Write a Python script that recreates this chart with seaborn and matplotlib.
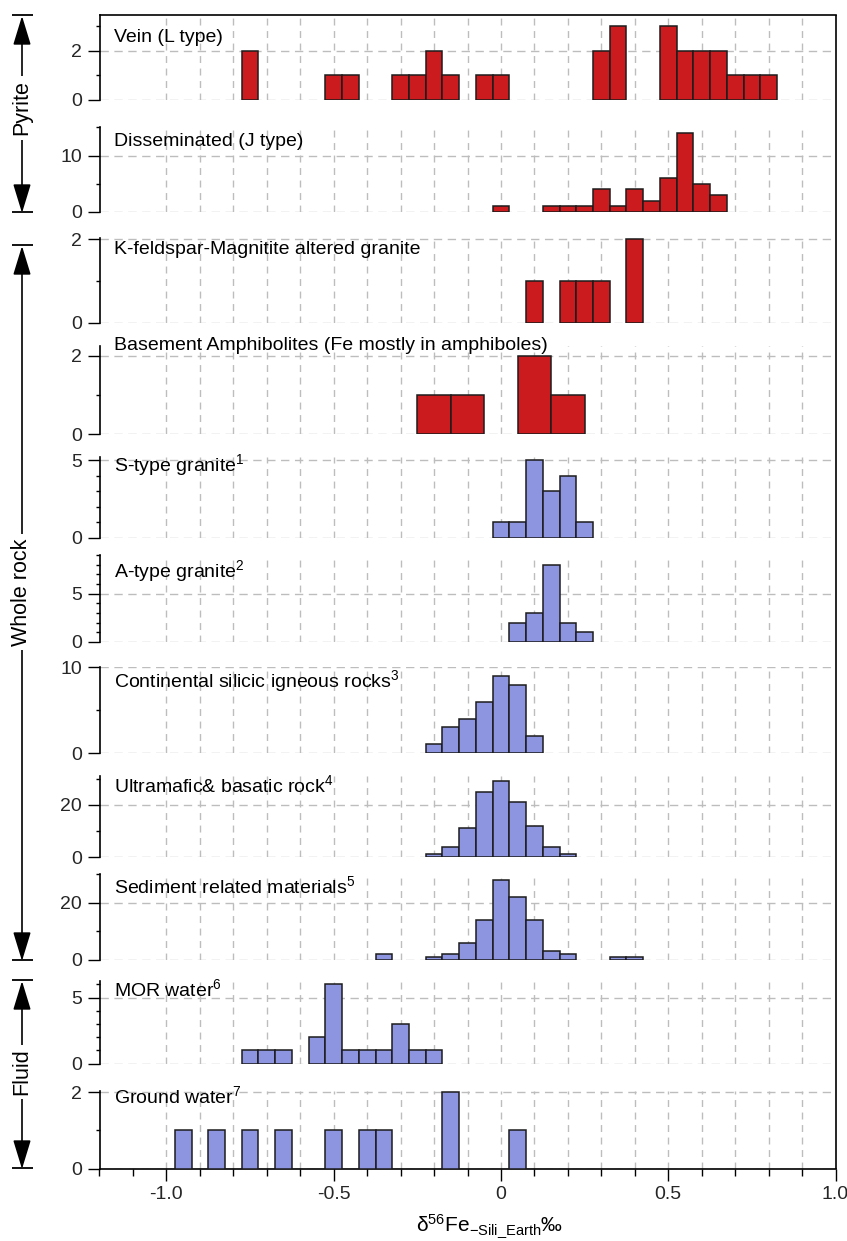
import numpy as np
import pandas as pd
import matplotlib
matplotlib.use("Agg")
import matplotlib.pyplot as plt
from matplotlib.ticker import MultipleLocator, FuncFormatter
import seaborn as sns

sns.set_theme(style="white")
plt.rcParams['font.family'] = ['Liberation Sans', 'DejaVu Sans']
plt.rcParams['mathtext.fontset'] = 'custom'
plt.rcParams['mathtext.rm'] = 'Liberation Sans'
plt.rcParams['mathtext.it'] = 'Liberation Sans:italic'
plt.rcParams['mathtext.bf'] = 'Liberation Sans:bold'
plt.rcParams['axes.unicode_minus'] = False

# ---------------- data (bin centres, counts) ----------------
titles = [
    "Vein (L type)",
    "Disseminated (J type)",
    "K-feldspar-Magnitite altered granite",
    "Basement Amphibolites (Fe mostly in amphiboles)",
    "S-type granite$^{1}$",
    "A-type granite$^{2}$",
    "Continental silicic igneous rocks$^{3}$",
    "Ultramafic& basatic rock$^{4}$",
    "Sediment related materials$^{5}$",
    "MOR water$^{6}$",
    "Ground water$^{7}$",
]

vein_x = [-0.75, -0.5, -0.45, -0.3, -0.25, -0.2, -0.15, -0.05, 0.0,
          0.3, 0.35, 0.5, 0.55, 0.6, 0.65, 0.7, 0.75, 0.8]
vein_n = [2, 1, 1, 1, 1, 2, 1, 1, 1, 2, 3, 3, 2, 2, 2, 1, 1, 1]

diss_x = [0.0, 0.15, 0.2, 0.25, 0.3, 0.35, 0.4, 0.45, 0.5, 0.55, 0.6, 0.65]
diss_n = [1, 1, 1, 1, 4, 1, 4, 2, 6, 14, 5, 3]

kfel_x = [0.1, 0.2, 0.25, 0.3, 0.4]
kfel_n = [1, 1, 1, 1, 2]

# amphibolites are binned at 0.1 width
amph_x = [-0.2, -0.1, 0.1, 0.2]
amph_n = [1, 1, 2, 1]

stype_x = [0.0, 0.05, 0.1, 0.15, 0.2, 0.25]
stype_n = [1, 1, 5, 3, 4, 1]

atype_x = [0.05, 0.1, 0.15, 0.2, 0.25]
atype_n = [2, 3, 8, 2, 1]

cont_x = [-0.2, -0.15, -0.1, -0.05, 0.0, 0.05, 0.1]
cont_n = [1, 3, 4, 6, 9, 8, 2]

ultra_x = [-0.2, -0.15, -0.1, -0.05, 0.0, 0.05, 0.1, 0.15, 0.2]
ultra_n = [1, 4, 11, 25, 29, 21, 12, 4, 1]

sedi_x = [-0.35, -0.2, -0.15, -0.1, -0.05, 0.0, 0.05, 0.1, 0.15, 0.2, 0.35, 0.4]
sedi_n = [2, 1, 2, 6, 14, 28, 22, 14, 3, 2, 1, 1]

mor_x = [-0.75, -0.7, -0.65, -0.55, -0.5, -0.45, -0.4, -0.35, -0.3, -0.25, -0.2]
mor_n = [1, 1, 1, 2, 6, 1, 1, 1, 3, 1, 1]

ground_x = [-0.95, -0.85, -0.75, -0.65, -0.5, -0.4, -0.35, -0.15, 0.05]
ground_n = [1, 1, 1, 1, 1, 1, 1, 2, 1]

panel_x = [vein_x, diss_x, kfel_x, amph_x, stype_x, atype_x, cont_x,
           ultra_x, sedi_x, mor_x, ground_x]
panel_n = [vein_n, diss_n, kfel_n, amph_n, stype_n, atype_n, cont_n,
           ultra_n, sedi_n, mor_n, ground_n]
bin_widths = [0.05, 0.05, 0.05, 0.1, 0.05, 0.05, 0.05, 0.05, 0.05, 0.05, 0.05]

x_ticks = [-1.0, -0.5, 0.0, 0.5, 1.0]
group_labels = ["Pyrite", "Whole rock", "Fluid"]

# ---------------- layout / style ----------------
W, H = 847, 1241
RED = "#CC1B1F"
BLUE = "#8D95E0"
EDGE = "#1c1c1c"
GRID = "#BDBDBD"
FS = 14

colors = [RED] * 4 + [BLUE] * 7
# (top_px, bottom_px)
pix = [(15, 99.5), (127, 212), (238, 323), (346, 434), (457, 537.5),
       (555, 642), (667, 753), (776, 857), (874, 960), (981, 1063.5),
       (1091, 1168.5)]
ytops = [3.47, 15.05, 2.03, 2.25, 5.2, 9.0, 10.05, 31, 30.05, 6.25, 2.03]
majors = [2, 10, 2, 2, 5, 5, 10, 20, 20, 5, 2]
minors = [1, 5, 1, 1, 1, 1, 5, 10, 10, 1, 1]
title_y = [37, 141, 249, 345, 465, 571, 681, 785, 886, 989, 1096]

LEFT, RIGHT = 99.5, 835.5

fig = plt.figure(figsize=(W / 100, H / 100), dpi=100)
fig.patch.set_facecolor("white")

axes = []
for i in range(11):
    top, bot = pix[i]
    ax = fig.add_axes([LEFT / W, 1 - bot / H, (RIGHT - LEFT) / W, (bot - top) / H])
    df = pd.DataFrame({"x": panel_x[i], "n": panel_n[i]})
    bw = bin_widths[i]
    sns.histplot(data=df, x="x", weights="n", binwidth=bw,
                 binrange=(-1.2 - bw / 2, 1.0 + bw / 2), ax=ax,
                 color=colors[i], edgecolor=EDGE, linewidth=1.1, alpha=1.0,
                 zorder=3)
    # drop empty bins so they do not draw an outline along the baseline
    for p in list(ax.patches):
        if p.get_height() <= 0:
            p.remove()
    ax.set_xlim(-1.2, 1.0)
    ax.set_ylim(0, ytops[i])
    ax.set_ylabel("")
    ax.set_xlabel("")
    ax.set_facecolor("none")
    ax.set_axisbelow(True)
    ax.yaxis.set_major_locator(MultipleLocator(majors[i]))
    ax.yaxis.set_minor_locator(MultipleLocator(minors[i]))
    ax.yaxis.set_major_formatter(FuncFormatter(lambda v, p: f"{int(round(v))}"))
    ax.grid(True, which="major", axis="y", color=GRID, lw=1.0,
            linestyle=(0, (6, 4)), zorder=0)
    for xv in np.arange(-1.0, 0.95, 0.1):
        ax.axvline(xv, color=GRID, lw=1.0, linestyle=(0, (5, 4)), zorder=0)
    for s in ["top", "right", "bottom"]:
        ax.spines[s].set_visible(False)
    ax.spines["left"].set_color("black")
    ax.spines["left"].set_linewidth(1.2)
    ax.tick_params(axis="y", which="major", direction="out", length=8.6,
                   width=1.0, color="black", labelsize=FS, pad=4, left=True)
    ax.tick_params(axis="y", which="minor", direction="out", length=3.2,
                   width=1.0, color="black", left=True)
    if i == 0:
        ax.spines["top"].set_visible(True)
        ax.spines["top"].set_color("black")
        ax.spines["top"].set_linewidth(1.2)
    if i == 10:
        ax.spines["bottom"].set_visible(True)
        ax.spines["bottom"].set_color("black")
        ax.spines["bottom"].set_linewidth(1.2)
        ax.set_xticks(x_ticks)
        ax.xaxis.set_major_formatter(
            FuncFormatter(lambda v, p: "0" if abs(v) < 1e-9 else f"{v:.1f}"))
        ax.xaxis.set_minor_locator(MultipleLocator(0.1))
        ax.tick_params(axis="x", which="major", direction="out", length=8.5,
                       width=1.0, color="black", labelsize=FS, pad=4, bottom=True)
        ax.tick_params(axis="x", which="minor", direction="out", length=4.8,
                       width=1.0, color="black", bottom=True)
    else:
        ax.set_xticks([])
        ax.tick_params(axis="x", which="both", bottom=False, labelbottom=False)
    axes.append(ax)

# overlay in pixel coordinates
ov = fig.add_axes([0, 0, 1, 1], zorder=10)
ov.set_xlim(0, W)
ov.set_ylim(H, 0)
ov.axis("off")
ov.patch.set_visible(False)

# right frame line
ov.plot([RIGHT, RIGHT], [15, 1168.5], color="black", lw=1.2,
        solid_capstyle="butt")

for i in range(11):
    ov.text(114, title_y[i], titles[i], fontsize=FS, ha="left", va="center",
            color="black")

# group brackets
brackets = [(15, 212, 108), (245, 960, 592), (980, 1168, 1072)]
AX = 22
for (y0, y1, yc), lab in zip(brackets, group_labels):
    for yy in (y0, y1):
        ov.plot([12, 33], [yy, yy], color="black", lw=1.3, solid_capstyle="butt")
    for yy in (y0, y1):
        ov.annotate("", xy=(AX, yy + 1), xytext=(AX, yc),
                    arrowprops=dict(arrowstyle="-|>,head_length=1.8,head_width=0.55",
                                    color="black", lw=1.2, shrinkA=0, shrinkB=0,
                                    mutation_scale=10))
    ov.text(AX, yc, lab, rotation=90, fontsize=15.5, ha="center", va="center",
            color="black",
            bbox=dict(facecolor="white", edgecolor="none", pad=3))

ov.text(490, 1226, "δ$^{56}$Fe$_{\\mathregular{-Sili\\_Earth}}$‰",
        fontsize=15, ha="center", va="center", color="black")

fig.savefig("out.png", dpi=100, facecolor="white")
